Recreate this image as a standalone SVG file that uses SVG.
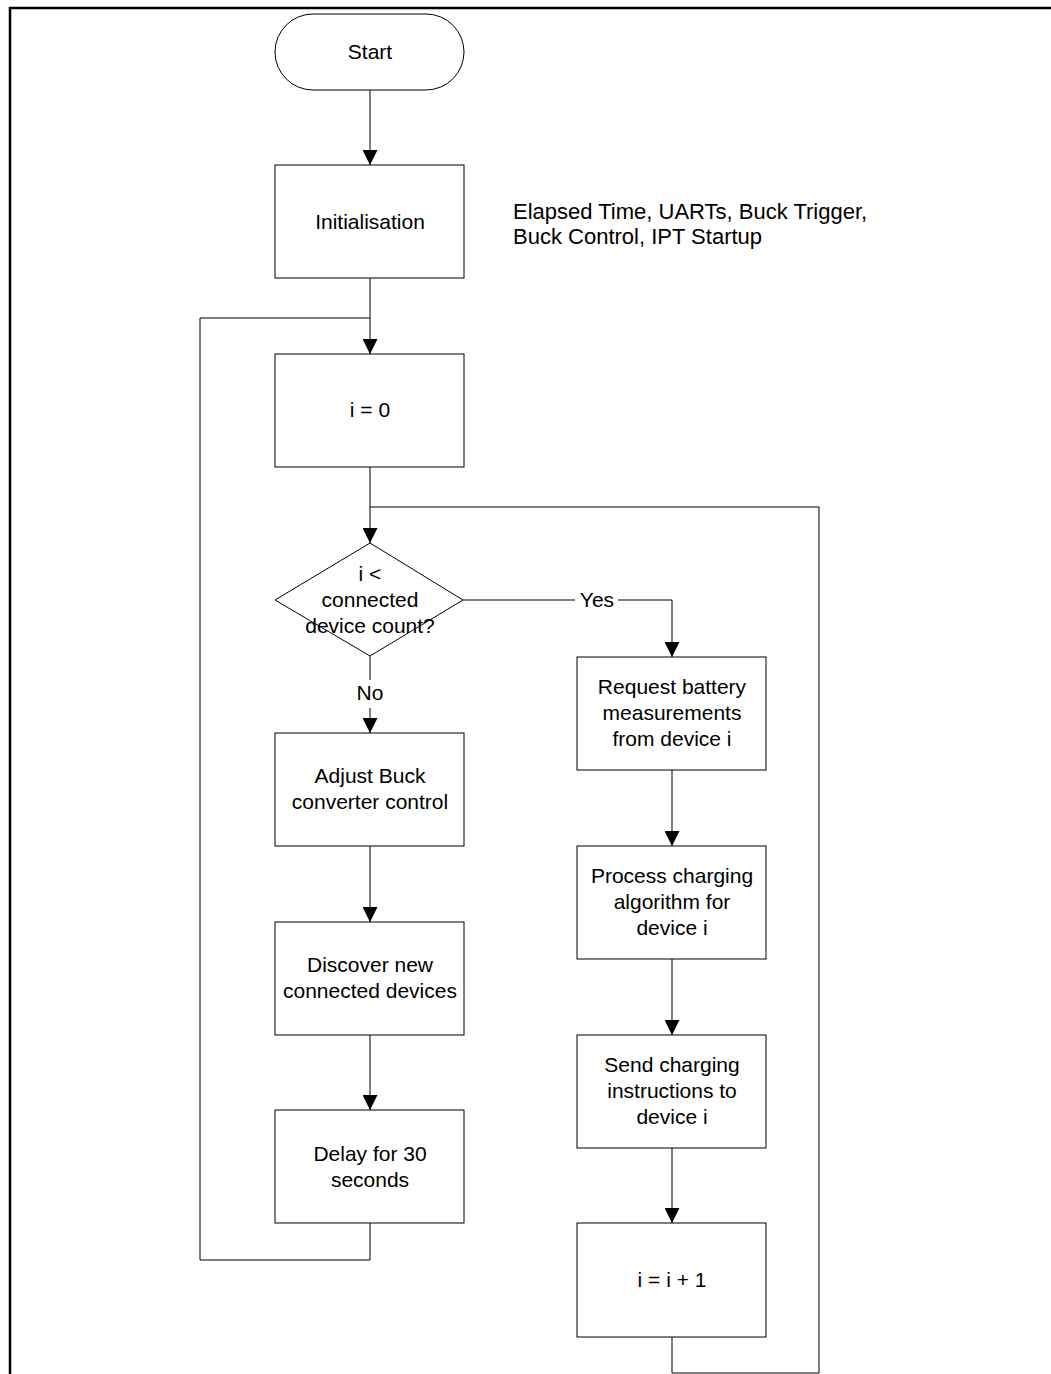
<svg xmlns="http://www.w3.org/2000/svg" width="1051" height="1374" viewBox="0 0 1051 1374">
<defs>
<marker id="arr" viewBox="0 0 10 10" refX="10" refY="5" markerWidth="15" markerHeight="15" markerUnits="userSpaceOnUse" orient="auto">
<path d="M0,0 L10,5 L0,10 Z" fill="#000"/>
</marker>
<style>
.s{fill:#fff;stroke:#000;stroke-width:1}
.c{fill:none;stroke:#000;stroke-width:1}
.t{font-family:"Liberation Sans",Arial,sans-serif;font-size:21px;fill:#000;text-anchor:middle}
.l{font-family:"Liberation Sans",Arial,sans-serif;font-size:22px;fill:#000}
</style>
</defs>
<rect width="1051" height="1374" fill="#fff"/>
<path d="M10,1374 V8 H1051" fill="none" stroke="#000" stroke-width="2.5"/>
<g id="connectors">
<path class="c" d="M370,90 V165" marker-end="url(#arr)"/>
<path class="c" d="M370,278 V354" marker-end="url(#arr)"/>
<path class="c" d="M370,467 V543" marker-end="url(#arr)"/>
<path class="c" d="M370,1223 V1260 H200 V318 H370"/>
<path class="c" d="M672,1337 V1373 H819 V507 H370"/>
<path class="c" d="M463,600 H575 M618,600 H672 V657" marker-end="url(#arr)"/>
<path class="c" d="M370,656 V680 M370,708 V733" marker-end="url(#arr)"/>
<path class="c" d="M370,846 V922" marker-end="url(#arr)"/>
<path class="c" d="M370,1035 V1110" marker-end="url(#arr)"/>
<path class="c" d="M672,770 V846" marker-end="url(#arr)"/>
<path class="c" d="M672,959 V1035" marker-end="url(#arr)"/>
<path class="c" d="M672,1148 V1223" marker-end="url(#arr)"/>
<text class="t" x="597" y="607">Yes</text>
<text class="t" x="370" y="700">No</text>
</g>
<g id="start"><rect class="s" x="275" y="14" width="189" height="76" rx="38" ry="38"/><text class="t" x="370" y="59">Start</text></g>
<g id="init"><rect class="s" x="275" y="165" width="189" height="113"/><text class="t" x="370" y="229">Initialisation</text></g>
<g id="note"><text class="l" x="513" y="219">Elapsed Time, UARTs, Buck Trigger,</text><text class="l" x="513" y="244">Buck Control, IPT Startup</text></g>
<g id="i0"><rect class="s" x="275" y="354" width="189" height="113"/><text class="t" x="370" y="417">i = 0</text></g>
<g id="decision"><path class="s" d="M370,543 L463,600 L370,656 L275,600 Z"/>
<text class="t" x="370" y="581">i &lt;</text><text class="t" x="370" y="607">connected</text><text class="t" x="370" y="633">device count?</text></g>
<g id="adjust"><rect class="s" x="275" y="733" width="189" height="113"/><text class="t" x="370" y="783">Adjust Buck</text><text class="t" x="370" y="809">converter control</text></g>
<g id="discover"><rect class="s" x="275" y="922" width="189" height="113"/><text class="t" x="370" y="972">Discover new</text><text class="t" x="370" y="998">connected devices</text></g>
<g id="delay"><rect class="s" x="275" y="1110" width="189" height="113"/><text class="t" x="370" y="1161">Delay for 30</text><text class="t" x="370" y="1187">seconds</text></g>
<g id="request"><rect class="s" x="577" y="657" width="189" height="113"/><text class="t" x="672" y="694">Request battery</text><text class="t" x="672" y="720">measurements</text><text class="t" x="672" y="746">from device i</text></g>
<g id="process"><rect class="s" x="577" y="846" width="189" height="113"/><text class="t" x="672" y="883">Process charging</text><text class="t" x="672" y="909">algorithm for</text><text class="t" x="672" y="935">device i</text></g>
<g id="send"><rect class="s" x="577" y="1035" width="189" height="113"/><text class="t" x="672" y="1072">Send charging</text><text class="t" x="672" y="1098">instructions to</text><text class="t" x="672" y="1124">device i</text></g>
<g id="inc"><rect class="s" x="577" y="1223" width="189" height="114"/><text class="t" x="672" y="1287">i = i + 1</text></g>
</svg>
